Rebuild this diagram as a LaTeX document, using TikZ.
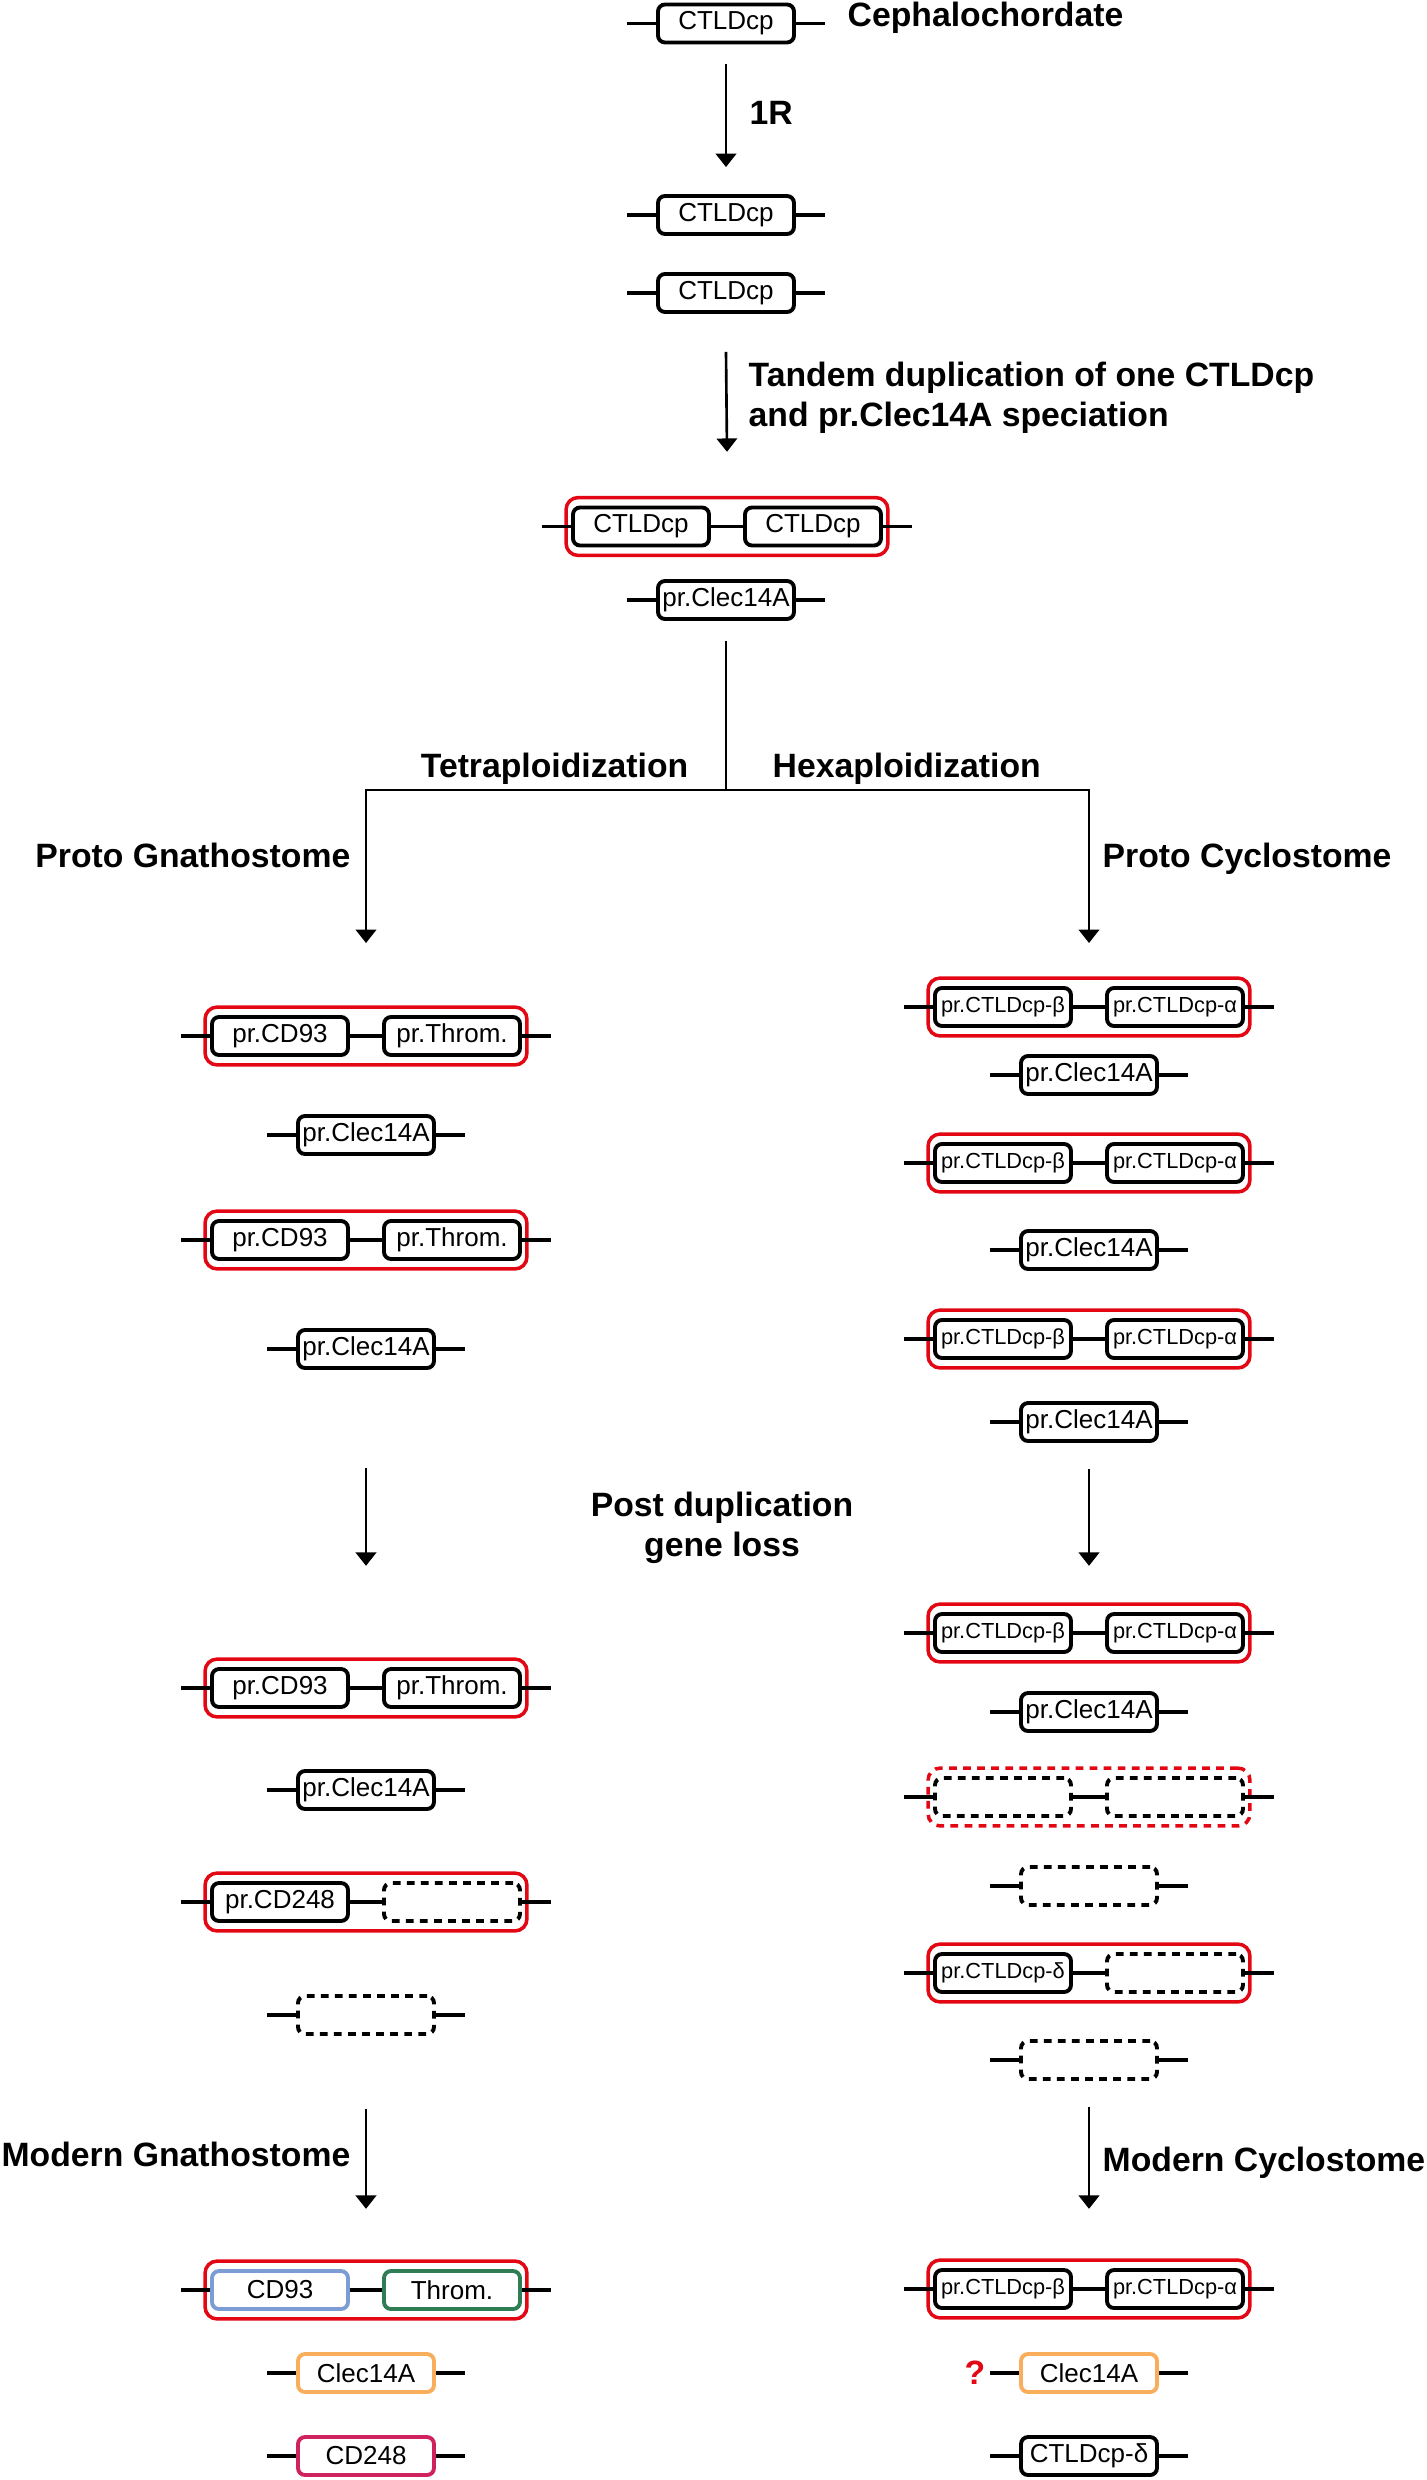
\documentclass[tikz,border=0pt]{standalone}
\usepackage{fontspec}
\setmainfont{Liberation Sans}
\usepackage{tikz}
\tikzset{>=latex}
\usetikzlibrary{arrows.meta}
\usetikzlibrary{positioning}
\usetikzlibrary{fit}
\definecolor{tandem}{RGB}{227,6,19}
\definecolor{cdblue}{RGB}{124,156,212}
\definecolor{thromgreen}{RGB}{46,125,85}
\definecolor{clecorange}{RGB}{249,174,91}
\definecolor{cdpink}{RGB}{208,34,94}

\begin{document}
\begin{tikzpicture}
    \tikzset{gene/.style={draw, line width=1.1pt, rounded corners=0.07cm, minimum width=1.36cm, minimum height=0.38cm, inner sep=0pt, fill=white, font=\fontsize{7.4}{8}\selectfont}}
    \tikzset{lost/.style={gene, dash pattern=on 2.2pt off 1.8pt}}
    \tikzset{small/.style={font=\fontsize{6.2}{7}\selectfont}}
    \tikzset{pair/.style={draw=tandem, line width=1.0pt, rounded corners=0.12cm, inner xsep=0.05cm, inner ysep=0.08cm}}
    \tikzset{chrom/.style={line width=1.0pt}}
    \tikzset{flow/.style={-{Triangle[width=5.8pt,length=3.8pt]}, line width=0.75pt}}
    \tikzset{tag/.style={font=\fontsize{9.6}{11.4}\selectfont\bfseries, inner sep=0pt}}
    \useasboundingbox (0,0) rectangle (14.26,-24.80);

    % cephalochordate and 1R
    \node[gene] (cep) at (7.26,-0.235) {CTLDcp};
    \node[tag, anchor=base west] (cephalo) at (8.47,-0.27) {Cephalochordate};
    \draw[chrom] ([xshift=-0.29cm]cep.west) -- (cep.west) (cep.east) -- ([xshift=0.29cm]cep.east);
    \node[gene] (dup1) at (7.26,-2.15) {CTLDcp};
    \node[gene] (dup2) at (7.26,-2.93) {CTLDcp};
    \draw[chrom] ([xshift=-0.29cm]dup1.west) -- (dup1.west) (dup1.east) -- ([xshift=0.29cm]dup1.east);
    \draw[chrom] ([xshift=-0.29cm]dup2.west) -- (dup2.west) (dup2.east) -- ([xshift=0.29cm]dup2.east);
    \draw[flow] ([yshift=-0.20cm]cep.south) -- ([yshift=0.27cm]dup1.north);
    \node[tag, anchor=base west] (oneR) at (7.49,-1.25) {1R};

    % tandem duplication
    \node[gene] (tanA) at (6.41,-5.265) {CTLDcp};
    \node[gene] (tanB) at (8.13,-5.265) {CTLDcp};
    \node[pair, fit=(tanA)(tanB)] (tan) {};
    \draw[chrom] ([xshift=-0.29cm]tanA.west) -- (tanA.west) (tanA) -- (tanB) (tanB.east) -- ([xshift=0.29cm]tanB.east);
    \node[gene] (anc) at (7.26,-6.00) {pr.Clec14A};
    \draw[chrom] ([xshift=-0.29cm]anc.west) -- (anc.west) (anc.east) -- ([xshift=0.29cm]anc.east);
    \draw[flow] ([yshift=-0.38cm]dup2.south) -- ([yshift=0.44cm]tan.north);
    \node[tag, anchor=north west, align=left] (tandemtxt) at (7.48,-3.61) {Tandem duplication of one CTLDcp\\and pr.Clec14A speciation};

    % split into the two lineages
    \coordinate (split) at (7.26,-7.90);
    \coordinate (protoG) at (3.66,-9.43);
    \coordinate (protoC) at (10.89,-9.43);
    \draw[line width=0.75pt] ([yshift=-0.2cm]anc.south) -- (split);
    \draw[flow] (split) -| (protoG);
    \draw[flow] (split) -| (protoC);
    \node[tag, anchor=base east] (tetra) at (6.89,-7.77) {Tetraploidization};
    \node[tag, anchor=base west] (hexa) at (7.72,-7.77) {Hexaploidization};
    \node[tag, anchor=base east] (pgnath) at (3.51,-8.67) {Proto Gnathostome};
    \node[tag, anchor=base west] (pcyclo) at (11.02,-8.67) {Proto Cyclostome};

    % proto gnathostome
    \node[gene] (g1a) at (2.80,-10.36) {pr.CD93};
    \node[gene] (g1b) at (4.52,-10.36) {pr.Throm.};
    \node[pair, fit=(g1a)(g1b)] (g1) {};
    \draw[chrom] ([xshift=-0.29cm]g1a.west) -- (g1a.west) (g1a) -- (g1b) (g1b.east) -- ([xshift=0.29cm]g1b.east);
    \node[gene] (g1c) at (3.66,-11.35) {pr.Clec14A};
    \draw[chrom] ([xshift=-0.29cm]g1c.west) -- (g1c.west) (g1c.east) -- ([xshift=0.29cm]g1c.east);
    \node[gene] (g2a) at (2.80,-12.40) {pr.CD93};
    \node[gene] (g2b) at (4.52,-12.40) {pr.Throm.};
    \node[pair, fit=(g2a)(g2b)] (g2) {};
    \draw[chrom] ([xshift=-0.29cm]g2a.west) -- (g2a.west) (g2a) -- (g2b) (g2b.east) -- ([xshift=0.29cm]g2b.east);
    \node[gene] (g2c) at (3.66,-13.49) {pr.Clec14A};
    \draw[chrom] ([xshift=-0.29cm]g2c.west) -- (g2c.west) (g2c.east) -- ([xshift=0.29cm]g2c.east);

    % proto cyclostome
    \node[gene, small] (p1a) at (10.03,-10.07) {pr.CTLDcp-β};
    \node[gene, small] (p1b) at (11.75,-10.07) {pr.CTLDcp-α};
    \node[pair, fit=(p1a)(p1b)] (p1) {};
    \draw[chrom] ([xshift=-0.29cm]p1a.west) -- (p1a.west) (p1a) -- (p1b) (p1b.east) -- ([xshift=0.29cm]p1b.east);
    \node[gene] (p1c) at (10.89,-10.75) {pr.Clec14A};
    \draw[chrom] ([xshift=-0.29cm]p1c.west) -- (p1c.west) (p1c.east) -- ([xshift=0.29cm]p1c.east);
    \node[gene, small] (p2a) at (10.03,-11.63) {pr.CTLDcp-β};
    \node[gene, small] (p2b) at (11.75,-11.63) {pr.CTLDcp-α};
    \node[pair, fit=(p2a)(p2b)] (p2) {};
    \draw[chrom] ([xshift=-0.29cm]p2a.west) -- (p2a.west) (p2a) -- (p2b) (p2b.east) -- ([xshift=0.29cm]p2b.east);
    \node[gene] (p2c) at (10.89,-12.50) {pr.Clec14A};
    \draw[chrom] ([xshift=-0.29cm]p2c.west) -- (p2c.west) (p2c.east) -- ([xshift=0.29cm]p2c.east);
    \node[gene, small] (p3a) at (10.03,-13.39) {pr.CTLDcp-β};
    \node[gene, small] (p3b) at (11.75,-13.39) {pr.CTLDcp-α};
    \node[pair, fit=(p3a)(p3b)] (p3) {};
    \draw[chrom] ([xshift=-0.29cm]p3a.west) -- (p3a.west) (p3a) -- (p3b) (p3b.east) -- ([xshift=0.29cm]p3b.east);
    \node[gene] (p3c) at (10.89,-14.22) {pr.Clec14A};
    \draw[chrom] ([xshift=-0.29cm]p3c.west) -- (p3c.west) (p3c.east) -- ([xshift=0.29cm]p3c.east);

    % gene loss
    \node[tag, anchor=north, align=center] (loss) at (7.22,-14.91) {Post duplication\\gene loss};
    \node[gene] (g3a) at (2.80,-16.88) {pr.CD93};
    \node[gene] (g3b) at (4.52,-16.88) {pr.Throm.};
    \node[pair, fit=(g3a)(g3b)] (g3) {};
    \draw[chrom] ([xshift=-0.29cm]g3a.west) -- (g3a.west) (g3a) -- (g3b) (g3b.east) -- ([xshift=0.29cm]g3b.east);
    \node[gene] (g3c) at (3.66,-17.90) {pr.Clec14A};
    \draw[chrom] ([xshift=-0.29cm]g3c.west) -- (g3c.west) (g3c.east) -- ([xshift=0.29cm]g3c.east);
    \node[gene] (g4a) at (2.80,-19.02) {pr.CD248};
    \node[lost] (g4b) at (4.52,-19.02) {};
    \node[pair, fit=(g4a)(g4b)] (g4) {};
    \draw[chrom] ([xshift=-0.29cm]g4a.west) -- (g4a.west) (g4a) -- (g4b) (g4b.east) -- ([xshift=0.29cm]g4b.east);
    \node[lost] (g4c) at (3.66,-20.15) {};
    \draw[chrom] ([xshift=-0.29cm]g4c.west) -- (g4c.west) (g4c.east) -- ([xshift=0.29cm]g4c.east);
    \draw[flow] ([yshift=-0.98cm]g2c.south) -- ([yshift=0.915cm]g3.north);

    \node[gene, small] (q1a) at (10.03,-16.33) {pr.CTLDcp-β};
    \node[gene, small] (q1b) at (11.75,-16.33) {pr.CTLDcp-α};
    \node[pair, fit=(q1a)(q1b)] (q1) {};
    \draw[chrom] ([xshift=-0.29cm]q1a.west) -- (q1a.west) (q1a) -- (q1b) (q1b.east) -- ([xshift=0.29cm]q1b.east);
    \node[gene] (q1c) at (10.89,-17.12) {pr.Clec14A};
    \draw[chrom] ([xshift=-0.29cm]q1c.west) -- (q1c.west) (q1c.east) -- ([xshift=0.29cm]q1c.east);
    \node[lost] (q2a) at (10.03,-17.97) {};
    \node[lost] (q2b) at (11.75,-17.97) {};
    \node[pair, dash pattern=on 2.2pt off 1.8pt, fit=(q2a)(q2b)] (q2) {};
    \draw[chrom] ([xshift=-0.29cm]q2a.west) -- (q2a.west) (q2a) -- (q2b) (q2b.east) -- ([xshift=0.29cm]q2b.east);
    \node[lost] (q2c) at (10.89,-18.86) {};
    \draw[chrom] ([xshift=-0.29cm]q2c.west) -- (q2c.west) (q2c.east) -- ([xshift=0.29cm]q2c.east);
    \node[gene, small] (q3a) at (10.03,-19.73) {pr.CTLDcp-δ};
    \node[lost] (q3b) at (11.75,-19.73) {};
    \node[pair, fit=(q3a)(q3b)] (q3) {};
    \draw[chrom] ([xshift=-0.29cm]q3a.west) -- (q3a.west) (q3a) -- (q3b) (q3b.east) -- ([xshift=0.29cm]q3b.east);
    \node[lost] (q3c) at (10.89,-20.60) {};
    \draw[chrom] ([xshift=-0.29cm]q3c.west) -- (q3c.west) (q3c.east) -- ([xshift=0.29cm]q3c.east);
    \draw[flow] ([yshift=-0.26cm]p3c.south) -- ([yshift=0.365cm]q1.north);

    % modern gnathostome
    \node[tag, anchor=base east] (mgnath) at (3.51,-21.66) {Modern Gnathostome};
    \node[gene, draw=cdblue] (m1a) at (2.80,-22.90) {CD93};
    \node[gene, draw=thromgreen] (m1b) at (4.52,-22.90) {Throm.};
    \node[pair, fit=(m1a)(m1b)] (m1) {};
    \draw[chrom] ([xshift=-0.29cm]m1a.west) -- (m1a.west) (m1a) -- (m1b) (m1b.east) -- ([xshift=0.29cm]m1b.east);
    \node[gene, draw=clecorange] (m1c) at (3.66,-23.73) {Clec14A};
    \draw[chrom] ([xshift=-0.29cm]m1c.west) -- (m1c.west) (m1c.east) -- ([xshift=0.29cm]m1c.east);
    \node[gene, draw=cdpink] (m1d) at (3.66,-24.56) {CD248};
    \draw[chrom] ([xshift=-0.29cm]m1d.west) -- (m1d.west) (m1d.east) -- ([xshift=0.29cm]m1d.east);
    \draw[flow] ([yshift=-0.73cm]g4c.south) -- ([yshift=0.505cm]m1.north);

    % modern cyclostome
    \node[tag, anchor=base west] (mcyclo) at (11.02,-21.71) {Modern Cyclostome};
    \node[gene, small] (n1a) at (10.03,-22.89) {pr.CTLDcp-β};
    \node[gene, small] (n1b) at (11.75,-22.89) {pr.CTLDcp-α};
    \node[pair, fit=(n1a)(n1b)] (n1) {};
    \draw[chrom] ([xshift=-0.29cm]n1a.west) -- (n1a.west) (n1a) -- (n1b) (n1b.east) -- ([xshift=0.29cm]n1b.east);
    \node[gene, draw=clecorange] (n1c) at (10.89,-23.73) {Clec14A};
    \draw[chrom] ([xshift=-0.29cm]n1c.west) -- (n1c.west) (n1c.east) -- ([xshift=0.29cm]n1c.east);
    \node[tag, text=tandem] (unsure) at (9.75,-23.73) {?};
    \node[gene] (n1d) at (10.89,-24.56) {CTLDcp-δ};
    \draw[chrom] ([xshift=-0.29cm]n1d.west) -- (n1d.west) (n1d.east) -- ([xshift=0.29cm]n1d.east);
    \draw[flow] ([yshift=-0.26cm]q3c.south) -- ([yshift=0.495cm]n1.north);
\end{tikzpicture}
\end{document}
